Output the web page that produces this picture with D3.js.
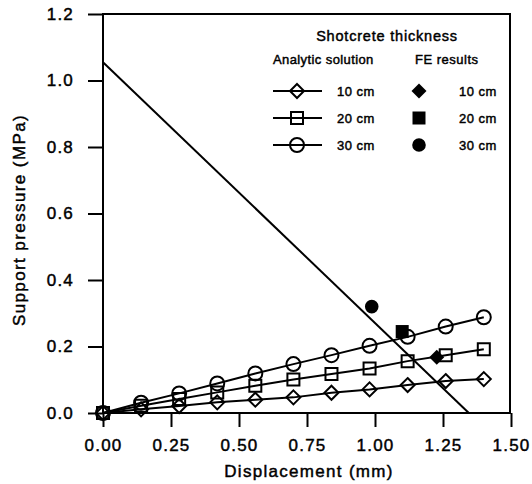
<!DOCTYPE html>
<html>
<head>
<meta charset="utf-8">
<script src="https://cdn.jsdelivr.net/npm/d3@7/dist/d3.min.js"></script>
<style>
  html, body { margin: 0; padding: 0; background: #fff; }
  svg text { font-family: "Liberation Sans", Arial, Helvetica, sans-serif; fill: #000; stroke: #000; stroke-width: 0.45px; }
</style>
</head>
<body>
<svg id="chart" width="532" height="484"></svg>
<script>
// Displacement (mm) at which the analytic solution is evaluated
const displacement = [0, 0.14, 0.28, 0.42, 0.56, 0.70, 0.84, 0.98, 1.12, 1.26, 1.40];

// Analytic support pressure (MPa) per shotcrete thickness
const analytic10 = [0, 0.011, 0.021, 0.032, 0.040, 0.047, 0.061, 0.071, 0.084, 0.096, 0.102];
const analytic20 = [0, 0.022, 0.042, 0.062, 0.082, 0.101, 0.117, 0.134, 0.156, 0.174, 0.192];
const analytic30 = [0, 0.031, 0.059, 0.089, 0.119, 0.147, 0.174, 0.202, 0.229, 0.260, 0.288];

// Finite element results: [10 cm, 20 cm, 30 cm]
const feLabels = ["10 cm", "20 cm", "30 cm"];
const feDisp = [1.227, 1.100, 0.988];
const fePress = [0.168, 0.245, 0.320];

// Ground reaction line
const groundDisp = [0, 1.345];
const groundPress = [1.055, 0];

// Axis ticks
const xTicks = [0, 0.25, 0.5, 0.75, 1.0, 1.25, 1.5];
const yTicks = [0, 0.2, 0.4, 0.6, 0.8, 1.0, 1.2];

const svg = d3.select("#chart");
const plotL = 103, plotR = 511, plotT = 14, plotB = 413;

const x = d3.scaleLinear().domain([0, 1.5]).range([plotL, plotR]);
const y = d3.scaleLinear().domain([0, 1.2]).range([plotB, plotT]);

const SW = 2;

// marker shapes
function markerPath(kind, r) {
  if (kind === "diamond") return `M0,${-r}L${r},0L0,${r}L${-r},0Z`;
  if (kind === "square") return `M${-r},${-r}H${r}V${r}H${-r}Z`;
  return d3.symbol(d3.symbolCircle, Math.PI * r * r)();
}
const openSize = { diamond: 7, square: 6, circle: 7 };
const fillSize = { diamond: 7.5, square: 6.5, circle: 6.8 };

// Frame
svg.append("rect")
  .attr("x", plotL).attr("y", plotT)
  .attr("width", plotR - plotL - 1).attr("height", plotB - plotT)
  .attr("fill", "none").attr("stroke", "#000").attr("stroke-width", SW);

// X axis
const xAxis = d3.axisBottom(x).tickValues(xTicks).tickSize(14).tickFormat(d3.format(".2f"));
const gx = svg.append("g").attr("transform", `translate(0,${plotB})`).call(xAxis);
gx.select(".domain").remove();
gx.selectAll("line").attr("stroke", "#000").attr("stroke-width", SW);
gx.selectAll("text")
  .attr("y", 26).attr("dy", "0.71em")
  .style("font-size", "17px").style("letter-spacing", "1.2px");

// Y axis
const yAxis = d3.axisLeft(y).tickValues(yTicks).tickSize(15).tickFormat(d3.format(".1f"));
const gy = svg.append("g").attr("transform", `translate(${plotL},0)`).call(yAxis);
gy.select(".domain").remove();
gy.selectAll("line").attr("stroke", "#000").attr("stroke-width", SW);
gy.selectAll("text")
  .attr("x", -29)
  .style("font-size", "17px").style("letter-spacing", "1.2px");

// Axis titles
svg.append("text")
  .attr("x", (plotL + plotR) / 2 + 2).attr("y", 477)
  .attr("text-anchor", "middle")
  .style("font-size", "17px").style("letter-spacing", "1.3px")
  .text("Displacement (mm)");

svg.append("text")
  .attr("transform", "translate(25,220) rotate(-90)")
  .attr("text-anchor", "middle")
  .style("font-size", "17px").style("letter-spacing", "1.4px")
  .text("Support pressure (MPa)");

// Ground reaction line
const line = d3.line().x(d => x(d[0])).y(d => y(d[1]));
svg.append("path")
  .datum(d3.zip(groundDisp, groundPress))
  .attr("d", line)
  .attr("fill", "none").attr("stroke", "#000").attr("stroke-width", SW);

// Analytic series
const series = [
  { values: analytic10, kind: "diamond" },
  { values: analytic20, kind: "square" },
  { values: analytic30, kind: "circle" }
];

series.forEach(s => {
  const pts = d3.zip(displacement, s.values);
  svg.append("path")
    .datum(pts)
    .attr("d", line)
    .attr("fill", "none").attr("stroke", "#000").attr("stroke-width", SW);
  svg.append("g").selectAll("path")
    .data(pts)
    .join("path")
    .attr("transform", d => `translate(${x(d[0])},${y(d[1])})`)
    .attr("d", markerPath(s.kind, openSize[s.kind]))
    .attr("fill", "none").attr("stroke", "#000").attr("stroke-width", SW);
});

// FE results
const feKinds = ["diamond", "square", "circle"];
svg.append("g").selectAll("path")
  .data(d3.range(feDisp.length))
  .join("path")
  .attr("transform", i => `translate(${x(feDisp[i])},${y(fePress[i])})`)
  .attr("d", i => markerPath(feKinds[i], fillSize[feKinds[i]]))
  .attr("fill", "#000").attr("stroke", "none");

// Legend
const lg = svg.append("g");
lg.append("text").attr("x", 387).attr("y", 41).attr("text-anchor", "middle")
  .style("font-size", "14.5px").style("letter-spacing", "0.8px")
  .text("Shotcrete thickness");
lg.append("text").attr("x", 273).attr("y", 64)
  .style("font-size", "13px").style("letter-spacing", "0.4px")
  .text("Analytic solution");
lg.append("text").attr("x", 415).attr("y", 64)
  .style("font-size", "13px").style("letter-spacing", "0.5px")
  .text("FE results");

const rowY = [91, 118, 145];
feKinds.forEach((k, i) => {
  const ry = rowY[i];
  lg.append("line").attr("x1", 273).attr("x2", 322).attr("y1", ry).attr("y2", ry)
    .attr("stroke", "#000").attr("stroke-width", SW);
  lg.append("path").attr("transform", `translate(297,${ry})`)
    .attr("d", markerPath(k, openSize[k]))
    .attr("fill", "none").attr("stroke", "#000").attr("stroke-width", SW);
  lg.append("text").attr("x", 337).attr("y", ry + 4.5)
    .style("font-size", "13px").style("letter-spacing", "0.5px")
    .text(feLabels[i]);
  lg.append("path").attr("transform", `translate(419,${ry})`)
    .attr("d", markerPath(k, fillSize[k]))
    .attr("fill", "#000");
  lg.append("text").attr("x", 459).attr("y", ry + 4.5)
    .style("font-size", "13px").style("letter-spacing", "0.5px")
    .text(feLabels[i]);
});
</script>
</body>
</html>
